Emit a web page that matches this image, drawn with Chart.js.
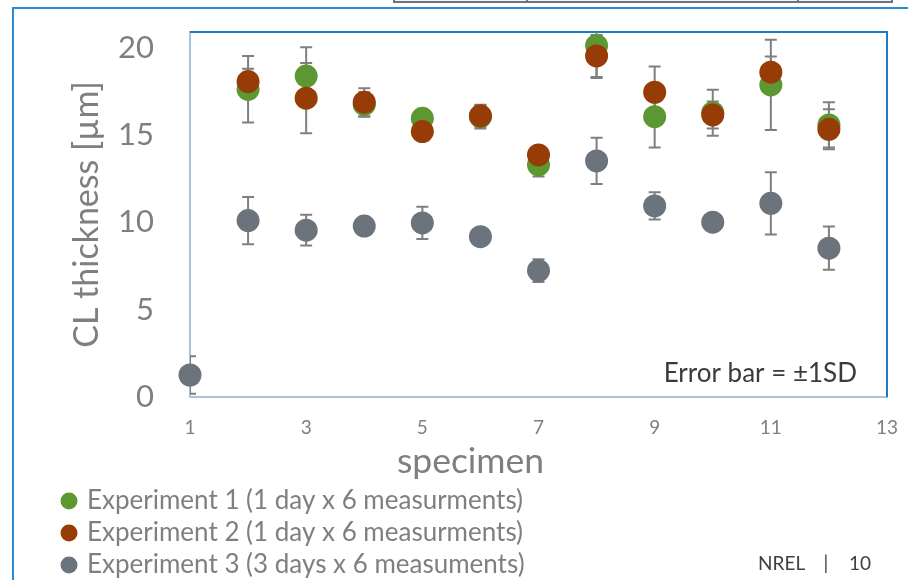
<!DOCTYPE html>
<html>
<head>
<meta charset="utf-8">
<script src="https://cdn.jsdelivr.net/npm/chart.js@4"></script>
<style>
html,body{margin:0;padding:0;background:#fff;overflow:hidden}
#wrap{position:relative;width:908px;height:580px}
</style>
</head>
<body>
<div id="wrap"><canvas id="c" width="908" height="580"></canvas></div>
<script>
// ---- data ----
const specimens = [1,2,3,4,5,6,7,8,9,10,11,12];
const exp1Mean = [null,17.62,18.38,16.75,15.96,16.05,13.29,20.12,16.05,16.28,17.87,15.58];
const exp1SD   = [null,1.90,1.65,0.70,0.30,0.68,0.67,1.85,1.77,1.32,2.58,1.30];
const exp2Mean = [null,18.06,17.11,16.88,15.20,16.10,13.86,19.53,17.45,16.15,18.60,15.33];
const exp2SD   = [null,0.73,2.01,0.80,0.30,0.62,0.50,1.20,1.47,0.77,0.89,1.15];
const exp3Mean = [1.26,10.10,9.55,9.79,9.97,9.18,7.24,13.52,10.94,10.01,11.09,8.52];
const exp3SD   = [1.07,1.35,0.88,0.30,0.93,0.30,0.65,1.32,0.78,0.30,1.78,1.24];
const seriesNames = [
  'Experiment 1 (1 day x 6 measurments)',
  'Experiment 2 (1 day x 6 measurments)',
  'Experiment 3 (3 days x 6 measuments)'
];
const seriesColors = ['#5D9732','#973C07','#6B737C'];
const xTitle = 'specimen';
const yTitle = 'CL thickness [µm]';
const noteText = 'Error bar = \u00B11SD';
const footerParts = ['NREL', '|', '10'];

const FONT = 'Lato, "Open Sans", sans-serif';

function toPoints(means){
  const pts = [];
  specimens.forEach((s,i)=>{ if(means[i]!==null) pts.push({x:s,y:means[i]}); });
  return pts;
}
function toSD(means, sds){
  const out = [];
  specimens.forEach((s,i)=>{ if(means[i]!==null) out.push(sds[i]); });
  return out;
}

const means = [exp1Mean, exp2Mean, exp3Mean];
const sds = [exp1SD, exp2SD, exp3SD];
const datasets = means.map((m,k)=>({
  label: seriesNames[k],
  data: toPoints(m),
  errors: toSD(m, sds[k]),
  backgroundColor: seriesColors[k],
  borderColor: seriesColors[k],
  borderWidth: 0,
  pointRadius: 11.5,
  pointHoverRadius: 11.5,
  pointStyle: 'circle',
  showLine: false,
  clip: false,
  order: 3 - k
}));

const decoPlugin = {
  id: 'deco',
  afterLayout(chart){
    const s = chart.scales.x;
    if (s && !s._titleShifted){
      const orig = s.drawTitle.bind(s);
      s.drawTitle = function(){
        const c = this.ctx; c.save(); c.translate(-68, 0); orig(); c.restore();
      };
      s._titleShifted = true;
    }
  },
  beforeDraw(chart){
    const ctx = chart.ctx;
    ctx.save();
    // outer slide frame
    ctx.strokeStyle = '#2A8AD4';
    ctx.lineWidth = 2;
    ctx.beginPath();
    ctx.moveTo(13, 590); ctx.lineTo(13, 8); ctx.lineTo(910, 8);
    ctx.stroke();
    // clipped top box
    ctx.fillStyle = '#F4F4F4';
    ctx.fillRect(394, -4, 498, 6);
    ctx.strokeStyle = '#6B7480';
    ctx.lineWidth = 2;
    ctx.strokeRect(394, -4, 498, 6);
    ctx.beginPath();
    ctx.moveTo(527, 0); ctx.lineTo(527, 2);
    ctx.moveTo(798, 0); ctx.lineTo(798, 2);
    ctx.stroke();
    ctx.restore();
  },
  beforeDatasetsDraw(chart){
    const {ctx, chartArea:a, scales:{x,y}} = chart;
    ctx.save();
    // plot frame top/right
    ctx.strokeStyle = '#1F7BC6';
    ctx.lineWidth = 2;
    ctx.beginPath();
    ctx.moveTo(a.left, a.top); ctx.lineTo(a.right, a.top); ctx.lineTo(a.right, a.bottom);
    ctx.stroke();
    // error bars (behind markers), clipped to plot area
    ctx.beginPath();
    ctx.rect(a.left, a.top, a.right - a.left, a.bottom - a.top);
    ctx.clip();
    ctx.strokeStyle = '#7F7F7F';
    ctx.lineWidth = 2;
    chart.data.datasets.forEach(ds=>{
      ds.data.forEach((p,i)=>{
        const e = ds.errors[i];
        const px = x.getPixelForValue(p.x);
        const yt = y.getPixelForValue(p.y + e);
        const yb = y.getPixelForValue(p.y - e);
        ctx.beginPath();
        ctx.moveTo(px, yt); ctx.lineTo(px, yb);
        ctx.moveTo(px-6, yt); ctx.lineTo(px+6, yt);
        ctx.moveTo(px-6, yb); ctx.lineTo(px+6, yb);
        ctx.stroke();
      });
    });
    ctx.restore();
  },
  afterDraw(chart){
    const ctx = chart.ctx;
    ctx.save();
    ctx.fillStyle = '#3A3A3A';
    ctx.font = '26px ' + FONT;
    ctx.textAlign = 'right';
    ctx.textBaseline = 'middle';
    ctx.fillText(noteText, 857, 374);
    ctx.font = '19px ' + FONT;
    ctx.fillStyle = '#404040';
    ctx.textAlign = 'left';
    ctx.fillText(footerParts[0], 758, 564);
    ctx.textAlign = 'center';
    ctx.fillText(footerParts[1], 826, 564);
    ctx.textAlign = 'right';
    ctx.fillText(footerParts[2], 871, 564);
    ctx.restore();
  }
};

new Chart(document.getElementById('c'), {
  type: 'scatter',
  data: { datasets },
  plugins: [decoPlugin],
  options: {
    responsive: false,
    animation: false,
    events: [],
    layout: { padding: { left: 58, right: 21, top: 32, bottom: -8 } },
    plugins: {
      tooltip: { enabled: false },
      legend: {
        position: 'bottom',
        align: 'start',
        labels: {
          usePointStyle: true,
          pointStyle: 'circle',
          boxWidth: 10,
          boxHeight: 12,
          padding: 6,
          color: '#7F7F7F',
          font: { family: FONT, size: 26 },
          sort: (a, b) => a.datasetIndex - b.datasetIndex
        }
      }
    },
    scales: {
      x: {
        type: 'linear',
        min: 1, max: 13,
        afterFit(s){ s.height = 85; s.paddingLeft = 0; s.paddingRight = 0; },
        grid: { display: false, drawTicks: false },
        border: { display: true, color: '#A9C4DA', width: 2 },
        ticks: { stepSize: 2, padding: 19, color: '#7F7F7F', font: { family: FONT, size: 19 } },
        title: { display: true, text: xTitle, color: '#7F7F7F',
                 font: { family: FONT, size: 35.5, lineHeight: 0.8 }, padding: { top: 0, bottom: 6 } }
      },
      y: {
        type: 'linear',
        min: 0, max: 20.9,
        afterFit(s){ s.width = 132; s.paddingTop = 0; s.paddingBottom = 0; },
        grid: { display: false, drawTicks: false },
        border: { display: true, color: '#A9C4DA', width: 2 },
        ticks: { stepSize: 5, includeBounds: false, padding: 36, color: '#7F7F7F', font: { family: FONT, size: 31 } },
        title: { display: true, text: yTitle, color: '#7F7F7F',
                 font: { family: FONT, size: 34 }, padding: { top: 9, bottom: 0 } }
      }
    }
  }
});
</script>
</body>
</html>
